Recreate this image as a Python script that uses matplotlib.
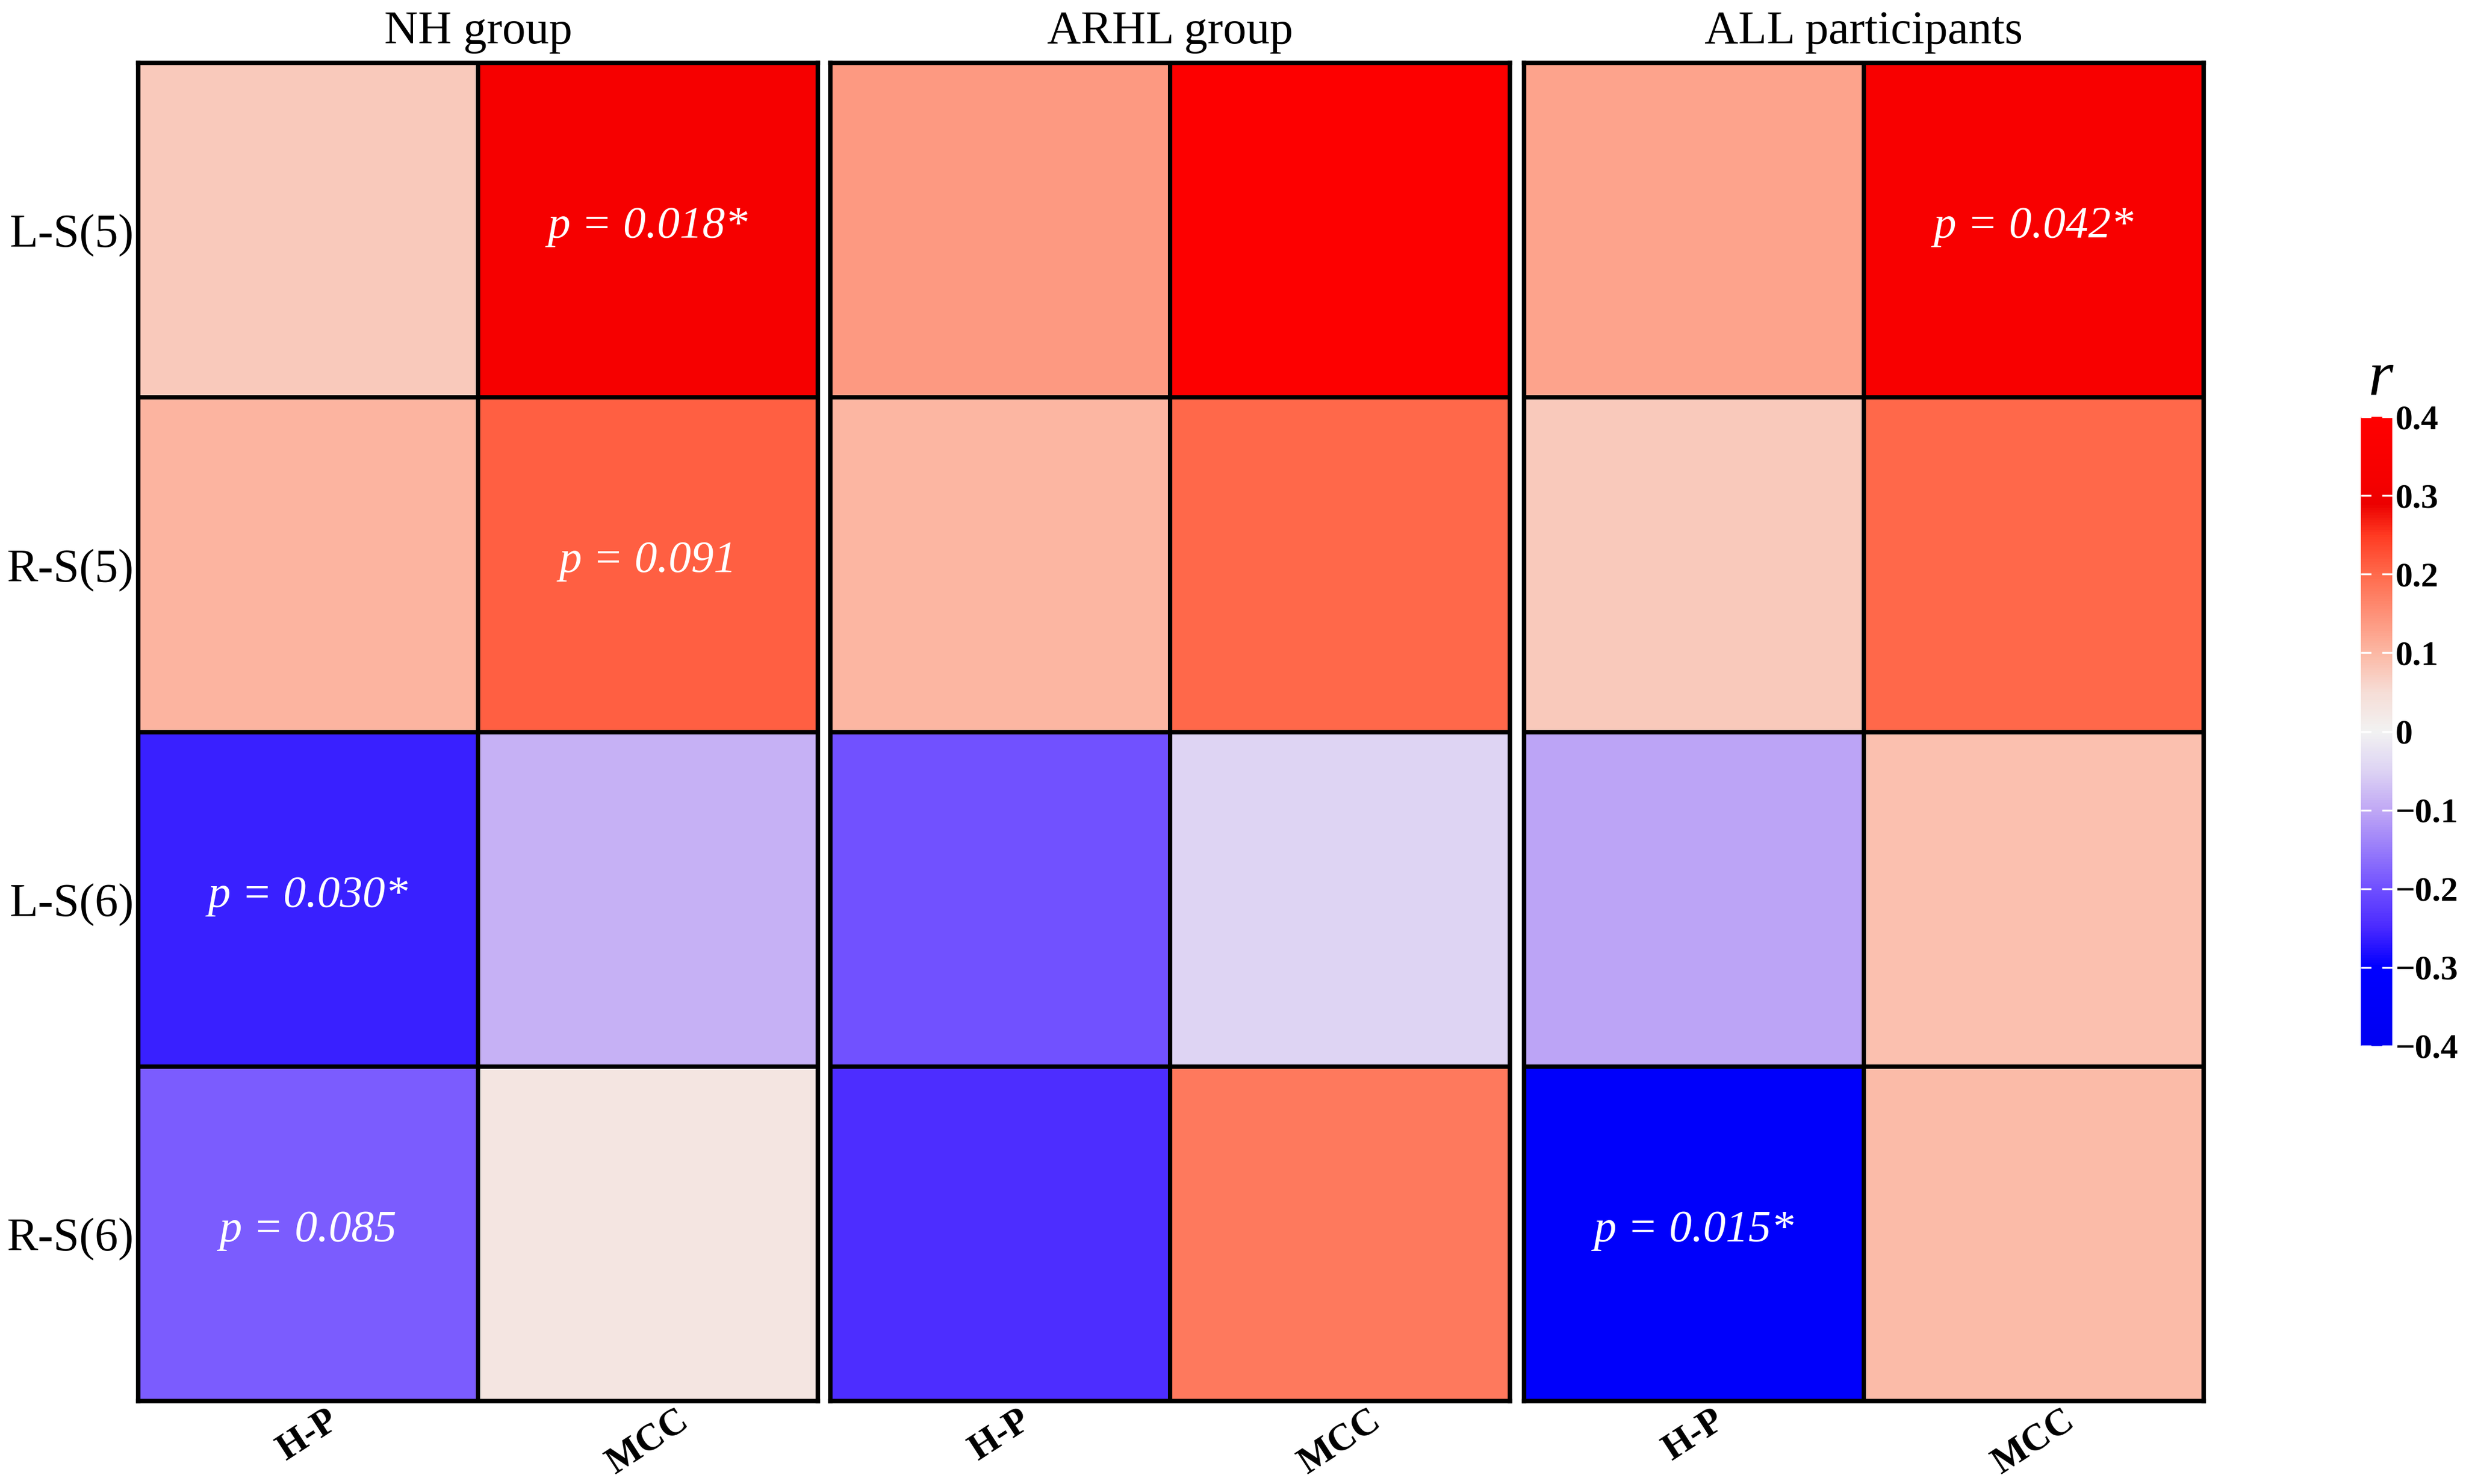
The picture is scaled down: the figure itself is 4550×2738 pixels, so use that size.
import numpy as np
import matplotlib
matplotlib.use("Agg")
import matplotlib.pyplot as plt
from matplotlib.colors import LinearSegmentedColormap, Normalize

# correlation r values, rows = L-S(5), R-S(5), L-S(6), R-S(6); cols = H-P, MCC
groups = ["NH group", "ARHL group", "ALL participants"]
rows = ["L-S(5)", "R-S(5)", "L-S(6)", "R-S(6)"]
cols = ["H-P", "MCC"]

r_nh = [[0.075, 0.33],
        [0.105, 0.21],
        [-0.26, -0.09],
        [-0.185, 0.03]]
r_arhl = [[0.14, 0.38],
          [0.10, 0.20],
          [-0.20, -0.05],
          [-0.245, 0.18]]
r_all = [[0.125, 0.34],
         [0.075, 0.20],
         [-0.105, 0.09],
         [-0.33, 0.095]]

# p value labels: (group index, row, col, text)
p_labels = [(0, 0, 1, "p = 0.018*"),
            (0, 1, 1, "p = 0.091"),
            (0, 2, 0, "p = 0.030*"),
            (0, 3, 0, "p = 0.085"),
            (2, 0, 1, "p = 0.042*"),
            (2, 3, 0, "p = 0.015*")]

cbar_ticks = [-0.4, -0.3, -0.2, -0.1, 0, 0.1, 0.2, 0.3, 0.4]
cbar_labels = ["\u22120.4", "\u22120.3", "\u22120.2", "\u22120.1", "0", "0.1", "0.2", "0.3", "0.4"]

plt.rcParams['font.family'] = ['Liberation Serif', 'DejaVu Serif']

vmin, vmax = -0.4, 0.4
anchors = [(-0.4, "#0000f2"), (-0.30, "#0000ff"), (-0.28, "#2010ff"), (-0.25, "#4a2aff"),
           (-0.2, "#7050ff"), (-0.1, "#c0a8f5"), (-0.05, "#ddd3f3"), (0.0, "#f2f2f2"),
           (0.05, "#f6ddd6"), (0.1, "#fcb8a4"), (0.2, "#ff6a4c"), (0.25, "#ff3a22"),
           (0.29, "#ec0000"), (0.32, "#f50000"), (0.4, "#ff0000")]
cmap = LinearSegmentedColormap.from_list(
    "rcorr", [((v - vmin) / (vmax - vmin), c) for v, c in anchors])
norm = Normalize(vmin=vmin, vmax=vmax)

W, H = 4550, 2738
fig = plt.figure(figsize=(W / 100, H / 100), dpi=100)

panel_left = [255, 1532, 2812]
panel_w = 1254
top, bottom = 116, 2585

axes = []
for gi, data in enumerate([r_nh, r_arhl, r_all]):
    ax = fig.add_axes([panel_left[gi] / W, 1 - bottom / H, panel_w / W, (bottom - top) / H])
    mesh = ax.pcolormesh(np.array(data), cmap=cmap, norm=norm,
                         edgecolors="black", linewidth=4.5)
    ax.set_xlim(0, 2)
    ax.set_ylim(4, 0)
    for s in ax.spines.values():
        s.set_linewidth(6)
    ax.set_xticks([0.5, 1.5])
    ax.set_xticklabels(cols, rotation=33, fontsize=50, fontweight="bold",
                       ha="center")
    ax.tick_params(axis="both", length=0)
    ax.tick_params(axis="x", pad=3)
    if gi == 0:
        ax.set_yticks([0.5, 1.5, 2.5, 3.5])
        ax.set_yticklabels(rows, fontsize=62)
        ax.tick_params(axis="y", pad=6)
    else:
        ax.set_yticks([])
    ax.text(0.5, 1.023, groups[gi], transform=ax.transAxes, ha="center",
            va="center", fontsize=62)
    axes.append(ax)

for gi, ri, ci, txt in p_labels:
    axes[gi].text(ci + 0.5, ri + 0.49, txt, ha="center", va="center",
                  fontsize=60, fontstyle="italic", color="white")

cax = fig.add_axes([4356 / W, 1 - 1930 / H, 58 / W, 1161 / H])
cb = fig.colorbar(mesh, cax=cax, ticks=cbar_ticks)
cb.outline.set_visible(False)
cb.ax.set_yticklabels(cbar_labels, fontsize=46, fontweight="bold")
cb.ax.tick_params(which="both", color="white", direction="in", length=14,
                  width=2.5, left=True, right=True, labelleft=False,
                  labelright=True, pad=4)
fig.text(4392 / W, 1 - 700 / H, "r", fontsize=85, fontstyle="italic",
         ha="center", va="center")

plt.savefig("out.png", dpi=100)
